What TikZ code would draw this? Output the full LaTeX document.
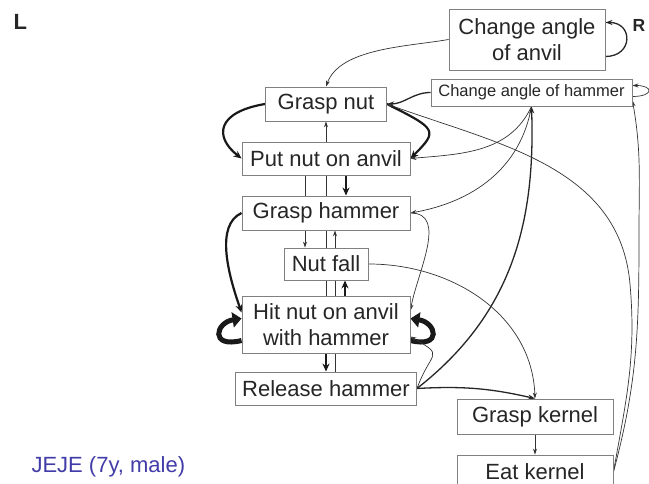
\documentclass[tikz,border=0pt]{standalone}
\usepackage{fontspec}
\setmainfont{Liberation Sans}
\usetikzlibrary{arrows.meta}
\definecolor{jejeblue}{RGB}{66,60,168}
\pgfdeclarelayer{back}
\pgfsetlayers{back,main}
\tikzset{
  box/.style={draw=gray, fill=white, line width=0.9pt, inner sep=0pt, align=center,
    text=black!85, font=\fontsize{22}{25.5}\selectfont},
  thin link/.style={line width=0.7pt, draw=black!80, -{Stealth[length=6pt,width=4pt]}},
  mid link/.style={line width=1.3pt, draw=black!85, -{Stealth[length=7pt,width=5pt]}},
  fat link/.style={line width=2.2pt, draw=black!90, -{Stealth[length=8pt,width=7pt]}},
  loop link/.style={line width=5pt, draw=black!90, -{Triangle[length=9pt,width=15pt]}},
}
\begin{document}
\begin{tikzpicture}[x=1pt,y=1pt]
% Frame: 649 x 484 px, y counted from the bottom
\useasboundingbox (0,0) rectangle (649,484);

% Offsets of the vertical links in the middle column
\def\xl{-21pt}  % put nut -> nut fall
\def\xr{9pt}    % release -> grasp hammer
\def\xf{19pt}   % thick ones

% Boxes
\node[box, minimum width=156pt, minimum height=61pt] (anvil)    at (527,444.5) {Change angle\\of anvil};
\node[box, minimum width=201pt, minimum height=27pt,
      font=\fontsize{16.5}{19}\selectfont]           (hamang)   at (531.5,391.5) {Change angle of hammer};
\node[box, minimum width=121pt, minimum height=34pt] (graspnut) at (326,380) {Grasp nut};
\node[box, minimum width=168pt, minimum height=33pt] (putnut)   at (326,325.5) {Put nut on anvil};
\node[box, minimum width=168pt, minimum height=34pt] (grasph)   at (326,271) {Grasp hammer};
\node[box, minimum width=84pt,  minimum height=32pt] (nutfall)  at (326,220) {Nut fall};
\node[box, minimum width=168pt, minimum height=57pt] (hit)      at (326,159.5) {Hit nut on anvil\\with hammer};
\node[box, minimum width=181pt, minimum height=33pt] (release)  at (326,95.5) {Release hammer};
\node[box, minimum width=156pt, minimum height=35pt] (graspk)   at (535,67.5) {Grasp kernel};
\node[box, minimum width=156pt, minimum height=34pt] (eatk)     at (535,12) {Eat kernel};

% Labels
\node[anchor=base west, font=\fontsize{22}{25}\selectfont\bfseries, text=black!85] (lside) at (10,454) {L};
\node[anchor=base west, font=\fontsize{17.5}{20}\selectfont\bfseries, text=black!85] (rside) at (629,452) {R};
\node[anchor=base west, font=\fontsize{22}{25}\selectfont, text=jejeblue] (who) at (28,11) {JEJE (7y, male)};

\begin{pgfonlayer}{back}
% Middle column
\draw[thin link] (hit.north) -- (graspnut.south);
\draw[thin link] ([xshift=\xl]putnut.south) -- ([xshift=\xl]nutfall.north);
\draw[fat link]  ([xshift=\xf+1pt]putnut.south) -- ([xshift=\xf+1pt]grasph.north);
\draw[thin link] ([xshift=\xr]release.north) -- ([xshift=\xr]grasph.south);
\draw[fat link]  ([xshift=\xf]hit.north) -- ([xshift=\xf]nutfall.south);
\draw[fat link]  (hit.south) -- (release.north);

% Left side
\draw[fat link] (graspnut.west) .. controls +(-48,-8) and +(-28,22) .. (putnut.west);
\draw[fat link] (grasph.west) .. controls +(-26,-12) and +(-14,40) .. ([yshift=12pt]hit.west);
\draw[loop link] ([yshift=-16pt]hit.west) .. controls +(-32,-8) and +(-26,-4) .. ([yshift=6pt]hit.west);

% Right side, near the column
\draw[fat link] (graspnut.east) .. controls +(50,-25) and +(28,28) .. (putnut.east);
\draw[thin link] (grasph.east) to[out=0,in=80] ([yshift=14pt]hit.east);
\draw[loop link] ([yshift=-16pt]hit.east) .. controls +(32,-8) and +(26,-4) .. ([yshift=6pt]hit.east);
\draw[thin link] (release.east) to[out=70,in=-30,looseness=2] ([yshift=-12pt]hit.east);

% Change angle of anvil
\draw[thin link] (anvil.west) to[out=190,in=70,looseness=0.8] (graspnut.north);
\draw[mid link] ([yshift=-17pt]anvil.east) to[out=0,in=0,looseness=2.1] ([yshift=17pt]anvil.east);

% Change angle of hammer
\draw[mid link] (hamang.west) to[out=180,in=0] (graspnut.east);
\draw[thin link] (hamang.south) to[out=245,in=5] (putnut.east);
\draw[thin link] (hamang.south) to[out=260,in=10] (grasph.east);
\draw[mid link] (release.east) to[out=38,in=-88] (hamang.south);
\draw[thin link] ([yshift=-4pt]hamang.east) to[out=0,in=0,looseness=5] ([yshift=7pt]hamang.east);

% Kernel
\draw[mid link] (release.east) to[bend left=8] (graspk.north);
\draw[thin link] (nutfall.east) to[out=0,in=92] (graspk.north);
\draw[thin link] (graspk.south) -- (eatk.north);
\draw[thin link] (eatk.east) to[out=80,in=-85] (630,200) to[out=95,in=-20] (graspnut.east);
\draw[thin link] (eatk.east) to[out=75,in=-90] (639,250) to[out=90,in=-80] ([yshift=-8pt]hamang.east);
\end{pgfonlayer}
\end{tikzpicture}
\end{document}
